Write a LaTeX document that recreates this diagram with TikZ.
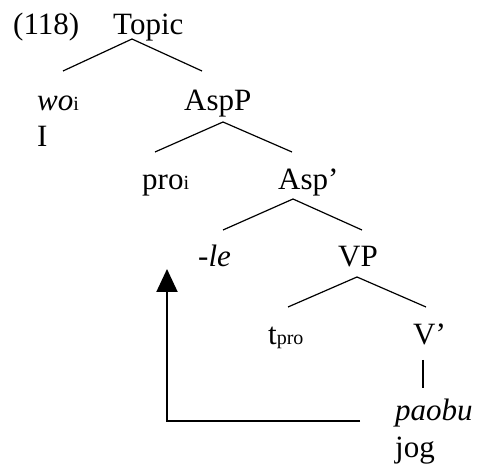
\documentclass[tikz,border=0pt]{standalone}
\usepackage{fontspec}
\setmainfont{Liberation Serif}
\usetikzlibrary{calc,arrows.meta}
\newcommand{\subtxt}[1]{{\fontsize{20}{24}\selectfont #1}}
\begin{document}
\begin{tikzpicture}[x=1pt, y=-1pt,
    lbl/.style={anchor=base west, inner sep=0pt, font=\fontsize{31}{36}\selectfont},
    branch/.style={line width=1.2pt},
    move/.style={line width=2pt, -{Triangle[width=21pt,length=23pt]}}]
    \useasboundingbox (0,0) rectangle (480,465);

    \node[lbl] (num) at (13,35) {(118)};
    \node[lbl] (topic) at (113,35) {Topic};
    \node[lbl] (wo) at (37,111) {\textit{wo}\subtxt{i}};
    \node[lbl] (gloss1) at (37,147) {I};
    \node[lbl] (aspp) at (184,111) {AspP};
    \node[lbl] (pro) at (142,190) {pro\subtxt{i}};
    \node[lbl] (aspbar) at (278,190) {Asp’};
    \node[lbl] (le) at (198,267) {-\textit{le}};
    \node[lbl] (vp) at (338,267) {VP};
    \node[lbl] (tpro) at (268,345) {t\subtxt{pro}};
    \node[lbl] (vbar) at (413,345) {V’};
    \node[lbl] (paobu) at (395,421) {\textit{paobu}};
    \node[lbl] (gloss2) at (395,457) {jog};

    \draw[branch] ($(wo.base west)+(26,-40)$) -- ($(topic.base west)+(19,4)$) -- ($(aspp.base west)+(18,-40)$);
    \draw[branch] ($(pro.base west)+(13,-38)$) -- ($(aspp.base west)+(39,11)$) -- ($(aspbar.base west)+(14,-38)$);
    \draw[branch] ($(le.base west)+(25,-37)$) -- ($(aspbar.base west)+(15,9)$) -- ($(vp.base west)+(24,-37)$);
    \draw[branch] ($(tpro.base west)+(20,-38)$) -- ($(vp.base west)+(19,10)$) -- ($(vbar.base west)+(13,-38)$);
    \draw[branch] ($(vbar.base west)+(10,15)$) -- ($(paobu.base west)+(28,-33)$);

    \draw[move] ($(paobu.base west)+(-35,0)$) -| ($(le.base west)+(-31,2)$);
\end{tikzpicture}
\end{document}
